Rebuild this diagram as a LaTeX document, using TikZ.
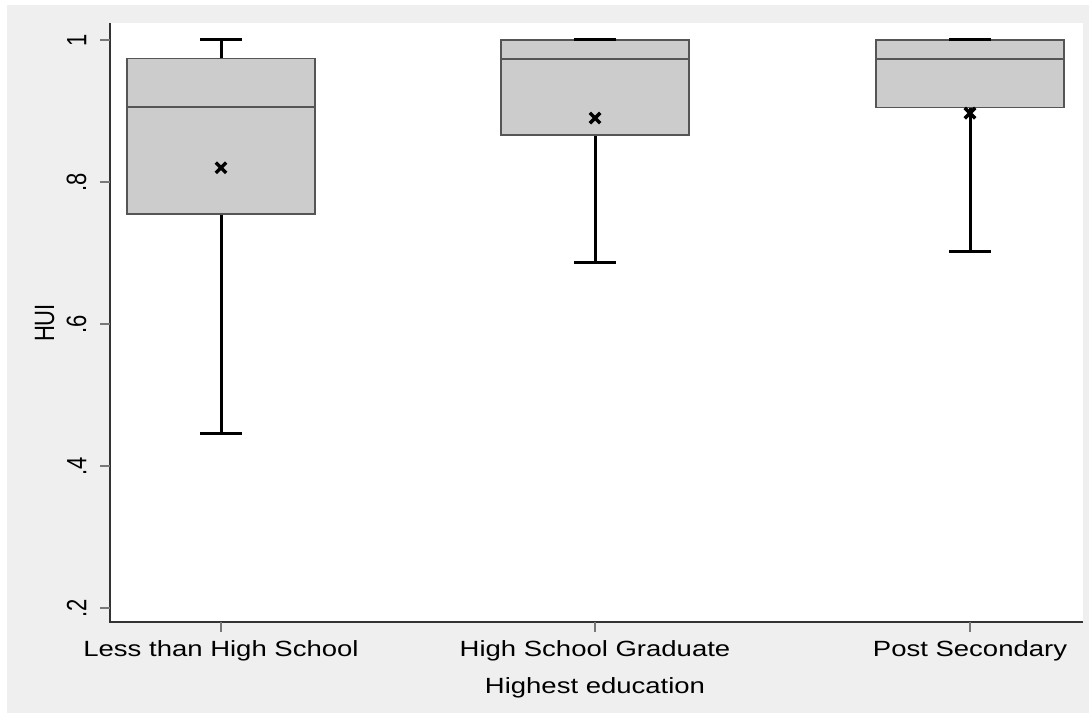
\documentclass[tikz,border=0pt]{standalone}
\usepackage{fontspec}
\setmainfont{Liberation Sans}
\usepackage{xcolor}
\usetikzlibrary{positioning}
\definecolor{plotgray}{HTML}{EFEFEF}
\definecolor{boxfill}{HTML}{CCCCCC}
\definecolor{boxline}{HTML}{555555}
\definecolor{tickgray}{HTML}{777777}

\begin{document}
\begin{tikzpicture}[x=0.5pt, y=0.5pt,
    axisline/.style={draw=black!80, line width=0.6pt},
    tickline/.style={draw=tickgray, line width=0.6pt},
    boxstyle/.style={fill=boxfill, draw=boxline, line width=0.8pt},
    medline/.style={draw=boxline, line width=0.8pt},
    whisker/.style={draw=black, line width=1.5pt},
    meanmark/.style={draw=black, line width=1.7pt},
    ticklbl/.style={font=\fontsize{11}{13}\selectfont, rotate=90, yscale=1.27, anchor=south, inner sep=0pt},
    catlbl/.style={font=\fontsize{11}{13}\selectfont, xscale=1.25, anchor=base, inner sep=0pt}]
  \useasboundingbox (0,0) rectangle (1089,713);
  \fill[white] (0,0) rectangle (1089,713);
  \fill[plotgray] (7,0) rectangle (1089,708);
  \fill[white] (110,91) rectangle (1083,690);
  \draw[axisline] (110,690) -- (110,91) -- (1083,91);

  % categories along the x axis
  \foreach \cx/\name/\txt in {221/less/Less than High School,
                              595/grad/High School Graduate,
                              970/post/Post Secondary}{
    \draw[tickline] (\cx,91) -- (\cx,81);
    \node[catlbl] (\name) at (\cx,56) {\txt};
  }
  \node[catlbl] (xtitle) at (595,19) {Highest education};
  \node[ticklbl] (ytitle) at (55,390) {HUI};

  % data part: y in HUI units
  \begin{scope}[yshift=-18.5pt, y=355pt]
    \foreach \v [count=\k] in {1,.8,.6,.4,.2}{
      \draw[tickline] (100,\v) -- (110,\v);
      \node[ticklbl] (ytick\k) at (87,\v) {\v};
    }
    \foreach \cx/\lo/\qa/\md/\qb/\hi/\mn in {221/0.446/0.755/0.906/0.974/1.0/0.820,
                                            595/0.686/0.866/0.973/1.0/1.0/0.890,
                                            970/0.702/0.905/0.973/1.0/1.0/0.897}{
      \draw[whisker] (\cx,\lo) -- (\cx,\qa);
      \draw[whisker] (\cx,\qb) -- (\cx,\hi);
      \draw[boxstyle] (\cx-94,\qa) rectangle (\cx+94,\qb);
      \draw[medline] (\cx-94,\md) -- (\cx+94,\md);
      \draw[whisker] (\cx-21,\lo) -- (\cx+21,\lo);
      \draw[whisker] (\cx-21,\hi) -- (\cx+21,\hi);
      \draw[meanmark] (\cx,\mn) ++(-2.6pt,-2.6pt) -- ++(5.2pt,5.2pt)
                      ++(-5.2pt,0pt) -- ++(5.2pt,-5.2pt);
    }
  \end{scope}
\end{tikzpicture}
\end{document}
